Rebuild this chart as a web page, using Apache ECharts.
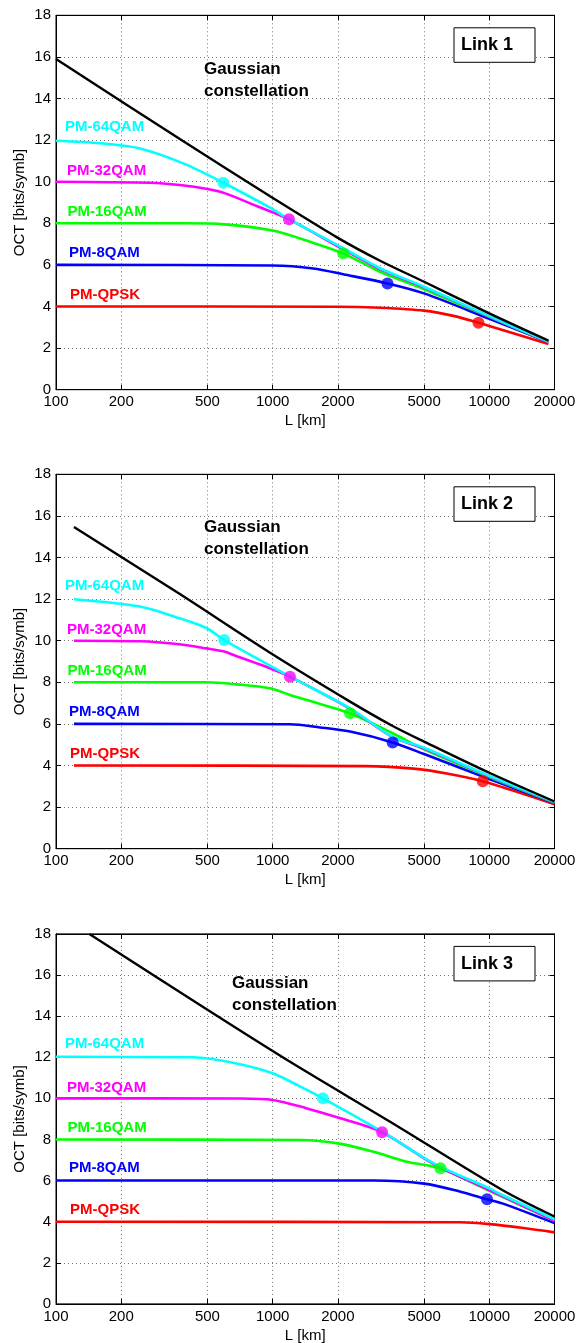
<!DOCTYPE html>
<html lang="en">
<head>
    <meta charset="UTF-8">
    <title>OCT vs L - Link 1/2/3</title>
    <script src="https://cdn.jsdelivr.net/npm/echarts@6/dist/echarts.min.js"></script>
    <style>
        html, body { margin: 0; padding: 0; background: #fff; }
        #chart { width: 578px; height: 1343px; }
    </style>
</head>
<body>
<div id="chart"></div>
<script>
    // axis ticks
    var xTicks = [100, 200, 500, 1000, 2000, 5000, 10000, 20000];
    var yMin = 0, yMax = 18, yStep = 2;

    var curveNames = ['PM-QPSK', 'PM-8QAM', 'PM-16QAM', 'PM-32QAM', 'PM-64QAM'];
    var linkNames = ['Link 1', 'Link 2', 'Link 3'];

    // ---- Link 1 : [L km, OCT bits/symb]
    var link1Gauss = [[100, 15.9], [373, 12.05], [973, 9.3], [2000, 7.3], [3133, 6.2], [5000, 5.19], [10000, 3.67], [18750, 2.36]];
    var link1Qpsk  = [[100, 4], [2000, 3.99], [3133, 3.94], [5000, 3.8], [6836, 3.55], [8913, 3.22], [10000, 3.06], [18750, 2.2]];
    var link1Qam8  = [[100, 6], [1000, 5.97], [1541, 5.83], [2118, 5.55], [3390, 5.11], [5000, 4.63], [10000, 3.41], [18750, 2.29]];
    var link1Qam16 = [[100, 8], [400, 8], [600, 7.95], [1000, 7.65], [1500, 7.1], [2118, 6.55], [3133, 5.67], [5000, 4.83], [10000, 3.5], [18750, 2.3]];
    var link1Qam32 = [[100, 10], [272, 9.95], [373, 9.84], [500, 9.65], [600, 9.45], [844, 8.83], [1190, 8.19], [2118, 6.75], [3133, 5.8], [5000, 4.92], [10000, 3.52], [18750, 2.3]];
    var link1Qam64 = [[100, 11.97], [160, 11.85], [244, 11.6], [387, 10.88], [592, 9.95], [973, 8.75], [1190, 8.2], [2118, 6.8], [3133, 5.84], [5000, 4.95], [10000, 3.54], [18750, 2.31]];
    var link1Dots  = [[8913, 3.22], [3390, 5.11], [2118, 6.55], [1190, 8.19], [592, 9.95]];

    // ---- Link 2
    var link2Gauss = [[121, 15.47], [373, 12.24], [973, 9.42], [2277, 7.07], [3581, 5.9], [5000, 5.15], [10000, 3.65], [20000, 2.27]];
    var link2Qpsk  = [[121, 4], [2715, 3.97], [4463, 3.85], [6354, 3.62], [9336, 3.24], [20000, 2.14]];
    var link2Qam8  = [[121, 6], [1202, 5.98], [1654, 5.83], [2277, 5.63], [3581, 5.11], [5000, 4.55], [10000, 3.35], [20000, 2.2]];
    var link2Qam16 = [[121, 8], [496, 8], [683, 7.9], [973, 7.71], [1202, 7.39], [1654, 6.96], [2277, 6.51], [3581, 5.55], [5000, 4.78], [10000, 3.45], [20000, 2.22]];
    var link2Qam32 = [[121, 10], [244, 9.97], [361, 9.84], [496, 9.63], [598, 9.48], [683, 9.25], [844, 8.91], [973, 8.67], [1202, 8.27], [2277, 6.72], [3581, 5.36], [5000, 4.82], [10000, 3.48], [20000, 2.24]];
    var link2Qam64 = [[121, 11.99], [244, 11.64], [361, 11.12], [496, 10.6], [598, 10.03], [973, 8.8], [1202, 8.27], [2277, 6.75], [3581, 5.38], [5000, 4.85], [10000, 3.5], [20000, 2.25]];
    var link2Dots  = [[9336, 3.24], [3581, 5.11], [2277, 6.51], [1202, 8.27], [598, 10.03]];

    // ---- Link 3
    var link3Gauss = [[142.6, 18], [500, 14.31], [1203, 11.78], [3500, 8.85], [11484, 5.54], [20000, 4.25]];
    var link3Qpsk  = [[100, 4], [7362, 3.97], [10000, 3.88], [14350, 3.69], [20000, 3.48]];
    var link3Qam8  = [[100, 6], [2925, 6], [5000, 5.85], [7362, 5.46], [9768, 5.09], [11484, 4.89], [20000, 3.93]];
    var link3Qam16 = [[100, 8], [1342, 7.97], [2000, 7.81], [2925, 7.4], [4163, 6.92], [5948, 6.59], [10000, 5.5], [20000, 4.04]];
    var link3Qam32 = [[100, 10], [700, 9.99], [1000, 9.92], [1440, 9.51], [2054, 9.03], [3200, 8.35], [5541, 6.8], [10000, 5.54], [20000, 4.04]];
    var link3Qam64 = [[100, 12.02], [430, 12], [681, 11.7], [1000, 11.22], [1342, 10.57], [1707, 10.0], [3200, 8.38], [5541, 6.84], [10000, 5.62], [11484, 5.3], [20000, 4.12]];
    var link3Dots  = [[3200, 8.35], [5948, 6.6], [1707, 10.0], [9768, 5.09]];
    var link3DotKinds = [3, 2, 4, 1]; // which curve each dot belongs to

    // colours: QPSK, 8QAM, 16QAM, 32QAM, 64QAM
    var colors = ['#ff0000', '#0000ff', '#00ff00', '#ff00ff', '#00ffff'];
    var font = '"Liberation Sans", Arial, Helvetica, sans-serif';

    // layout of the three plot boxes (px)
    var gridLeft = 56, gridWidth = 498.5;
    var boxes = [
        { top: 15.3, height: 374.4 },
        { top: 474.3, height: 374.4 },
        { top: 933.9, height: 370 }
    ];

    var panels = [
        { gauss: link1Gauss, curves: [link1Qpsk, link1Qam8, link1Qam16, link1Qam32, link1Qam64], dots: link1Dots, dotKinds: [0, 1, 2, 3, 4] },
        { gauss: link2Gauss, curves: [link2Qpsk, link2Qam8, link2Qam16, link2Qam32, link2Qam64], dots: link2Dots, dotKinds: [0, 1, 2, 3, 4] },
        { gauss: link3Gauss, curves: [link3Qpsk, link3Qam8, link3Qam16, link3Qam32, link3Qam64], dots: link3Dots, dotKinds: link3DotKinds }
    ];

    var grids = [], xAxes = [], yAxes = [], series = [];
    var gridLine = { show: true, lineStyle: { color: '#777', type: [1, 3], width: 1 } };

    boxes.forEach(function (b, i) {
        grids.push({
            left: gridLeft, top: b.top, width: gridWidth, height: b.height,
            show: true, borderColor: '#000', borderWidth: 1, backgroundColor: '#fff',
            outerBoundsMode: 'none', containLabel: false
        });
        xAxes.push({
            type: 'log', logBase: 10, min: 100, max: 20000, gridIndex: i,
            name: 'L [km]', nameLocation: 'middle', nameGap: 24, nameMoveOverlap: false,
            nameTextStyle: { color: '#000', fontSize: 15, fontFamily: font },
            axisLine: { show: true, onZero: false, lineStyle: { color: '#000', width: 1 } },
            axisTick: { show: true, inside: true, length: 5, customValues: xTicks, lineStyle: { color: '#000' } },
            axisLabel: {
                show: true, customValues: xTicks, margin: 5, color: '#000', fontSize: 15, fontFamily: font,
                showMinLabel: true, showMaxLabel: true,
                formatter: function (v) { return String(Math.round(v)); }
            },
            minorTick: { show: false },
            splitLine: gridLine
        });
        yAxes.push({
            type: 'value', min: yMin, max: yMax, interval: yStep, gridIndex: i,
            name: 'OCT [bits/symb]', nameLocation: 'middle', nameGap: 29, nameRotate: 90, nameMoveOverlap: false,
            nameTextStyle: { color: '#000', fontSize: 15, fontFamily: font },
            axisLine: { show: true, onZero: false, lineStyle: { color: '#000', width: 1 } },
            axisTick: { show: true, inside: true, length: 5, lineStyle: { color: '#000' } },
            axisLabel: { margin: 5, color: '#000', fontSize: 15, fontFamily: font, showMinLabel: true, showMaxLabel: true },
            splitLine: gridLine
        });
    });
    // mirrored axes on top / right for the inner ticks of the box
    boxes.forEach(function (b, i) {
        xAxes.push({
            type: 'log', logBase: 10, min: 100, max: 20000, gridIndex: i, position: 'top',
            axisLine: { show: true, onZero: false, lineStyle: { color: '#000', width: 1 } },
            axisTick: { show: true, inside: true, length: 5, customValues: xTicks, lineStyle: { color: '#000' } },
            axisLabel: { show: false }, splitLine: { show: false }
        });
        yAxes.push({
            type: 'value', min: yMin, max: yMax, interval: yStep, gridIndex: i, position: 'right',
            axisLine: { show: true, onZero: false, lineStyle: { color: '#000', width: 1 } },
            axisTick: { show: true, inside: true, length: 5, lineStyle: { color: '#000' } },
            axisLabel: { show: false }, splitLine: { show: false }
        });
    });

    panels.forEach(function (p, i) {
        p.curves.forEach(function (c, k) {
            series.push({
                type: 'line', name: curveNames[k] + ' ' + (i + 1), xAxisIndex: i, yAxisIndex: i,
                data: c, showSymbol: false, smooth: 0.3,
                lineStyle: { color: colors[k], width: 2.6 }, z: 3 + k, silent: true
            });
        });
        series.push({
            type: 'line', name: 'Gaussian ' + (i + 1), xAxisIndex: i, yAxisIndex: i,
            data: p.gauss, showSymbol: false, smooth: 0.3,
            lineStyle: { color: '#000', width: 2.4 }, z: 9, silent: true
        });
        series.push({
            type: 'scatter', name: 'dots ' + (i + 1), xAxisIndex: i, yAxisIndex: i,
            data: p.dots.map(function (d, j) {
                return { value: d, itemStyle: { color: colors[p.dotKinds[j]] } };
            }),
            symbol: 'circle', symbolSize: 12, z: 12, silent: true
        });
    });

    var chart = echarts.init(document.getElementById('chart'));
    chart.setOption({
        animation: false,
        backgroundColor: '#fff',
        grid: grids, xAxis: xAxes, yAxis: yAxes, series: series
    });

    // annotations (placed with the chart's own coordinate conversion)
    var labelLevels = [4.58, 6.6, 8.56, 10.5, 12.63];
    var labelOffsets = [14, 13, 11.5, 11, 9];
    var gaussAnchor = [[482, 15.42], [482, 15.47], [649, 15.62]];
    var graphics = [];
    boxes.forEach(function (b, i) {
        var finder = { xAxisIndex: i, yAxisIndex: i };
        labelLevels.forEach(function (lv, k) {
            var pt = chart.convertToPixel(finder, [100, lv]);
            graphics.push({
                type: 'text', x: gridLeft + labelOffsets[k], y: pt[1], z: 20,
                style: { text: curveNames[k], fill: colors[k], fontSize: 15, fontWeight: 'bold', fontFamily: font, verticalAlign: 'middle', align: 'left' }
            });
        });
        var g = chart.convertToPixel(finder, gaussAnchor[i]);
        graphics.push({
            type: 'text', x: g[0], y: g[1], z: 20,
            style: { text: 'Gaussian', fill: '#000', fontSize: 17, fontWeight: 'bold', fontFamily: font, verticalAlign: 'middle', align: 'left' }
        });
        graphics.push({
            type: 'text', x: g[0], y: g[1] + 22, z: 20,
            style: { text: 'constellation', fill: '#000', fontSize: 17, fontWeight: 'bold', fontFamily: font, verticalAlign: 'middle', align: 'left' }
        });
        var bx = gridLeft + gridWidth - 100.5, by = b.top + 12.5;
        graphics.push({
            type: 'rect', z: 20,
            shape: { x: bx, y: by, width: 81, height: 34.5 },
            style: { fill: '#fff', stroke: '#000', lineWidth: 1 }
        });
        graphics.push({
            type: 'text', x: bx + 7, y: by + 17.5, z: 21,
            style: { text: linkNames[i], fill: '#000', fontSize: 18, fontWeight: 'bold', fontFamily: font, verticalAlign: 'middle', align: 'left' }
        });
    });
    chart.setOption({ graphic: graphics });
</script>
</body>
</html>
